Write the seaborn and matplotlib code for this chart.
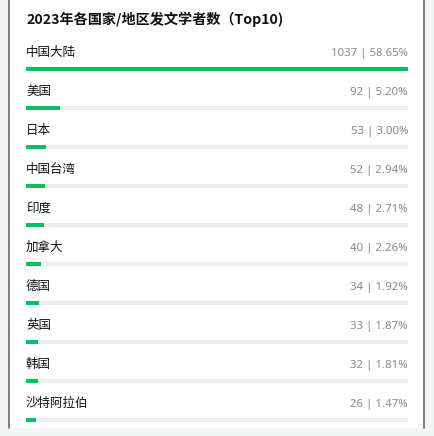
import matplotlib
matplotlib.use("Agg")
import matplotlib.pyplot as plt
import seaborn as sns
import pandas as pd
from matplotlib.patches import Rectangle

sns.set_theme(style="white")
plt.rcParams['font.family'] = ['Noto Sans CJK SC', 'DejaVu Sans']

title = "2023年各国家/地区发文学者数（Top10)"
regions = ["中国大陆", "美国", "日本", "中国台湾", "印度", "加拿大", "德国", "英国", "韩国", "沙特阿拉伯"]
counts = [1037, 92, 53, 52, 48, 40, 34, 33, 32, 26]
percents = ["58.65%", "5.20%", "3.00%", "2.94%", "2.71%", "2.26%", "1.92%", "1.87%", "1.81%", "1.47%"]

df = pd.DataFrame({"region": regions, "count": counts, "track": [max(counts)] * len(counts)})

W, H = 435, 436
fig = plt.figure(figsize=(W / 100, H / 100), dpi=100)
fig.patch.set_facecolor("#f4f5f5")

# card
card = fig.add_axes([9 / W, (H - 428) / H, (424 - 9) / W, 428 / H])
card.set_xlim(0, 1); card.set_ylim(0, 1)
card.axis("off")
card.add_patch(Rectangle((0, 0), 1, 1, transform=card.transAxes, facecolor="white", edgecolor="none"))
card.plot([0, 0], [0, 1], color="#6b6b6b", lw=1.2, transform=card.transAxes, clip_on=False)
card.plot([1, 1], [0, 1], color="#6b6b6b", lw=1.2, transform=card.transAxes, clip_on=False)

x0, x1 = 26, 408
ax = fig.add_axes([x0 / W, 0, (x1 - x0) / W, 1])
ax.patch.set_alpha(0)
row0, step = 69, 39
bar_h = 3.6 / step
sns.barplot(data=df, y="region", x="track", color="#eeeeee", width=bar_h, ax=ax, orient="h",
            saturation=1, linewidth=0, edgecolor="none")
sns.barplot(data=df, y="region", x="count", color="#07c160", width=bar_h, ax=ax, orient="h",
            saturation=1, linewidth=0, edgecolor="none")
ax.set_xlim(0, max(counts))
ax.set_ylim((H - row0) / step, -row0 / step)
ax.axis("off")

for i, (r, c, p) in enumerate(zip(regions, counts, percents)):
    ax.text(0, i - 16.5 / step, r, ha="left", va="center", fontsize=9, color="#111111")
    ax.text(max(counts), i - 15.5 / step, f"{c} | {p}", ha="right", va="center", fontsize=8.2,
            color="#8a8a8a", family=["Noto Sans", "DejaVu Sans"])

fig.text(x0 / W, 1 - 19 / H, title, ha="left", va="center", fontsize=10.2, fontweight="bold", color="#111111")

fig.savefig("out.png", dpi=100, facecolor=fig.get_facecolor())
